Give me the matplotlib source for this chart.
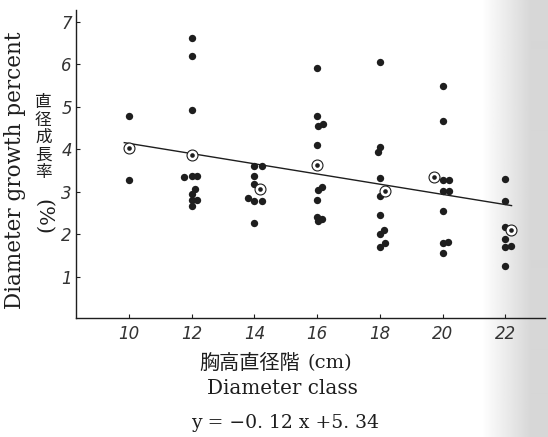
import numpy as np
import matplotlib.pyplot as plt

# individual trees, grouped by diameter class (x slightly spread where dots touch)
dot_x = [10.0, 10.0,
         12.0, 12.0, 12.0, 11.76, 12.0, 12.18, 12.1, 12.0, 12.0, 12.18, 12.0,
         14.0, 14.23, 14.0, 14.0, 13.8, 14.0, 14.23, 14.0,
         16.0, 16.0, 16.03, 16.2, 16.0, 16.03, 16.17, 16.0, 15.98, 16.17, 16.03,
         18.0, 18.02, 17.95, 18.0, 18.0, 18.0, 18.12, 18.0, 18.17, 18.0,
         20.0, 20.0, 20.0, 20.2, 20.0, 20.2, 20.0, 20.0, 20.18, 20.0,
         22.0, 22.0, 22.0, 21.98, 22.0, 22.17, 22.0]
dot_y = [4.78, 3.29,
         6.61, 6.19, 4.92, 3.34, 3.37, 3.37, 3.06, 2.96, 2.81, 2.81, 2.67,
         3.61, 3.61, 3.38, 3.18, 2.86, 2.79, 2.79, 2.26,
         5.92, 4.78, 4.55, 4.59, 4.10, 3.04, 3.12, 2.80, 2.41, 2.37, 2.32,
         6.06, 4.06, 3.94, 3.33, 2.90, 2.45, 2.10, 2.00, 1.80, 1.71,
         5.49, 4.66, 3.28, 3.28, 3.02, 3.02, 2.56, 1.79, 1.81, 1.55,
         3.30, 2.78, 2.18, 1.88, 1.71, 1.73, 1.26]

# class means (ringed dots)
mean_x = [10.0, 12.0, 14.18, 16.0, 18.17, 19.73, 22.18]
mean_y = [4.04, 3.86, 3.06, 3.63, 3.02, 3.35, 2.10]

# regression y = -0.12 x + 5.34
slope, intercept = -0.12, 5.34
fit_range = [9.85, 22.2]

xticks = [10, 12, 14, 16, 18, 20, 22]
yticks = [1, 2, 3, 4, 5, 6, 7]

ink = '#1e1e1e'
serif = ['DejaVu Serif']
jp = ['Noto Sans CJK JP', 'DejaVu Sans']

fig = plt.figure(figsize=(5.48, 4.37), dpi=100)

# paper shading toward the binding on the right
bg = fig.add_axes([0, 0, 1, 1], zorder=0)
cols = np.arange(548)
shade = np.tile(np.clip(1 - 0.16 * (cols - 482) / 50.0, 0.84, 1.0), (2, 1))
bg.imshow(shade, cmap='gray', vmin=0, vmax=1, aspect='auto',
          extent=[0, 1, 0, 1], interpolation='bilinear')
bg.axis('off')

ax = fig.add_axes([0.1387, 0.2723, 0.856, 0.7048], zorder=1)
ax.patch.set_alpha(0)

ax.scatter(dot_x, dot_y, s=28, color=ink, linewidths=0, zorder=3)
ax.scatter(mean_x, mean_y, s=62, facecolors='white', edgecolors=ink,
           linewidths=0.8, zorder=4)
ax.scatter(mean_x, mean_y, s=11, color=ink, linewidths=0, zorder=5)

fx = np.array(fit_range)
ax.plot(fx, slope * fx + intercept, color=ink, lw=1.0, zorder=2)

ax.set_xlim(8.31, 23.27)
ax.set_ylim(0.03, 7.28)
for side in ('top', 'right'):
    ax.spines[side].set_visible(False)
for side in ('left', 'bottom'):
    ax.spines[side].set_color(ink)
    ax.spines[side].set_linewidth(1.0)

ax.set_xticks(xticks)
ax.set_yticks(yticks)
ax.set_xticklabels([str(t) for t in xticks], fontstyle='italic',
                   fontsize=12, color='#333333')
ax.set_yticklabels([str(t) for t in yticks], fontstyle='italic',
                   fontsize=12, color='#333333')
ax.tick_params(axis='x', direction='in', length=3, width=0.8, color=ink, pad=5)
ax.tick_params(axis='y', direction='in', length=3, width=0.8, color=ink, pad=3)

# y-axis captions: English, then Japanese written vertically
fig.text(0.028, 0.61, 'Diameter growth percent', rotation=90,
         ha='center', va='center', fontsize=15.5, family=serif, color=ink)
fig.text(0.079, 0.685, '\n'.join('直径成長率'), ha='center', va='center',
         fontsize=12, family=jp, color=ink, linespacing=1.05)
fig.text(0.079, 0.503, '(%)', rotation=270, ha='center', va='center',
         fontsize=15, family=serif, color=ink)

# x-axis captions and regression equation
fig.text(0.548, 0.169, '胸高直径階', ha='right', va='center',
         fontsize=14.5, family=jp, color=ink)
fig.text(0.562, 0.169, '(cm)', ha='left', va='center',
         fontsize=14, family=serif, color=ink)
fig.text(0.515, 0.112, 'Diameter class', ha='center', va='center',
         fontsize=14.3, family=serif, color=ink)
fig.text(0.52, 0.032, 'y = \u22120. 12 x +5. 34', ha='center', va='center',
         fontsize=13.5, family=serif, color=ink)

fig.savefig('out.png', dpi=100)
